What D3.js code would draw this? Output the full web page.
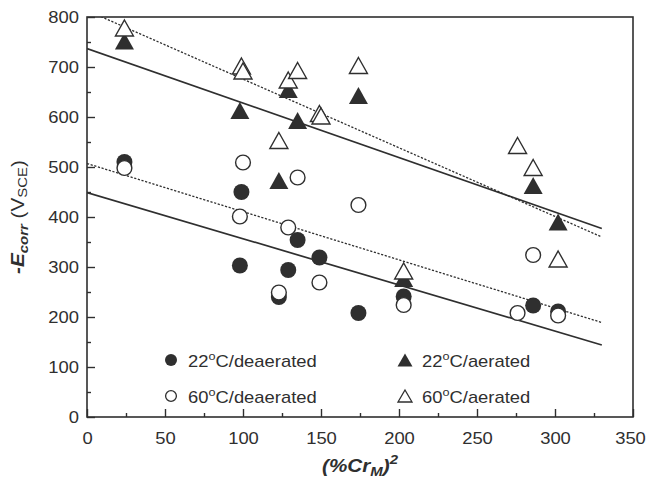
<!DOCTYPE html>
<html>
<head>
<meta charset="utf-8">
<script src="https://cdn.jsdelivr.net/npm/d3@7"></script>
<style>
  html, body { margin: 0; padding: 0; background: #fff; }
  svg { display: block; }
  text { font-family: "Liberation Sans", Arial, sans-serif; fill: #2f2f2f; }
</style>
</head>
<body>
<svg id="chart" width="647" height="487"></svg>
<script>
// ---- data ----
const xTicks = [0, 50, 100, 150, 200, 250, 300, 350];
const xMinorTicks = [25, 75, 125, 175, 225, 275, 325];
const yTicks = [0, 100, 200, 300, 400, 500, 600, 700, 800];
const yMinorTicks = [50, 150, 250, 350, 450, 550, 650, 750];

// 22°C / deaerated (filled circles)
const deae22X = [24, 99, 98, 123, 129, 135, 149, 174, 203, 286, 302];
const deae22Y = [510, 450, 303, 240, 294, 354, 319, 208, 241, 223, 211];
// 60°C / deaerated (open circles)
const deae60X = [24, 100, 98, 123, 129, 135, 149, 174, 203, 276, 286, 302];
const deae60Y = [498, 509, 401, 249, 379, 479, 269, 424, 224, 208, 324, 203];
// 22°C / aerated (filled triangles)
const aer22X = [24, 98, 123, 129, 135, 174, 203, 286, 302];
const aer22Y = [752, 613, 473, 655, 593, 643, 277, 463, 390];
// 60°C / aerated (open triangles)
const aer60X = [24, 99, 100, 123, 129, 135, 149, 150, 174, 203, 276, 286, 302];
const aer60Y = [778, 702, 692, 553, 674, 693, 607, 602, 703, 292, 543, 499, 316];

// linear fits (endpoints)
const fitX = [0, 330];
const fitDeae22 = [449, 144];
const fitDeae60 = [507, 189];
const fitAer22 = [737, 377];
const fitAer60 = [813, 360];

const legendLabels = ["22", "22", "60", "60"];
const legendSuffix = ["C/deaerated", "C/aerated", "C/deaerated", "C/aerated"];

// ---- layout ----
const svg = d3.select("#chart");
const L = 87, R = 633, T = 17, B = 417;
const x = d3.scaleLinear().domain([0, 350]).range([L, R]);
const y = d3.scaleLinear().domain([0, 800]).range([B, T]);
const ink = "#2f2f2f";
const SX = 1.15; // horizontal text stretch

svg.append("defs").append("clipPath").attr("id", "clip")
  .append("rect").attr("x", L).attr("y", T).attr("width", R - L).attr("height", B - T);

// fit lines
const fits = [
  {v: fitDeae22, dash: null},
  {v: fitDeae60, dash: "2.2,1.6"},
  {v: fitAer22, dash: null},
  {v: fitAer60, dash: "2.2,1.6"}
];
const lineGen = d3.line().x(d => x(d[0])).y(d => y(d[1]));
const gl = svg.append("g").attr("clip-path", "url(#clip)");
fits.forEach(f => {
  gl.append("path")
    .attr("d", lineGen(fitX.map((xv, i) => [xv, f.v[i]])))
    .attr("fill", "none")
    .attr("stroke", ink)
    .attr("stroke-width", f.dash ? 1.3 : 1.7)
    .attr("stroke-dasharray", f.dash);
});

// markers
const tri = (w, h) => `M0,${-h/2}L${w/2},${h/2}L${-w/2},${h/2}Z`;
function drawCircles(xs, ys, filled) {
  svg.append("g").selectAll("circle").data(xs.map((v, i) => [v, ys[i]])).join("circle")
    .attr("cx", d => x(d[0])).attr("cy", d => y(d[1])).attr("r", filled ? 8 : 7.4)
    .attr("fill", filled ? ink : "#fff")
    .attr("stroke", ink).attr("stroke-width", filled ? 0 : 1.4);
}
function drawTris(xs, ys, filled) {
  svg.append("g").selectAll("path").data(xs.map((v, i) => [v, ys[i]])).join("path")
    .attr("transform", d => `translate(${x(d[0])},${y(d[1])})`)
    .attr("d", filled ? tri(19, 17) : tri(18, 16))
    .attr("fill", filled ? ink : "#fff")
    .attr("stroke", ink).attr("stroke-width", filled ? 0 : 1.4)
    .attr("stroke-linejoin", "miter");
}
drawCircles(deae22X, deae22Y, true);
drawTris(aer22X, aer22Y, true);
drawCircles(deae60X, deae60Y, false);
drawTris(aer60X, aer60Y, false);

// axes
const gx = svg.append("g").attr("transform", `translate(0,${B})`)
  .call(d3.axisBottom(x).tickValues(xTicks).tickSize(-8).tickPadding(16).tickFormat(d3.format("d")));
svg.append("g").attr("transform", `translate(0,${B})`)
  .call(d3.axisBottom(x).tickValues(xMinorTicks).tickSize(-4).tickFormat(""));
const gy = svg.append("g").attr("transform", `translate(${L},0)`)
  .call(d3.axisLeft(y).tickValues(yTicks).tickSize(-8).tickPadding(7).tickFormat(d3.format("d")));
svg.append("g").attr("transform", `translate(${L},0)`)
  .call(d3.axisLeft(y).tickValues(yMinorTicks).tickSize(-4).tickFormat(""));
svg.selectAll(".domain").remove();
svg.selectAll(".tick line").attr("stroke", ink).attr("stroke-width", 1.4);
svg.selectAll(".tick text").attr("font-size", 16).attr("font-family", "Liberation Sans, Arial, sans-serif")
  .attr("fill", ink).attr("transform", `scale(${SX},1)`);
gy.selectAll(".tick text").attr("dy", "0.34em");
// keep the last x label inside the window
gx.selectAll(".tick text").filter(d => d === 350).attr("x", -3 / SX);

// frame
svg.append("rect").attr("x", L).attr("y", T).attr("width", R - L).attr("height", B - T)
  .attr("fill", "none").attr("stroke", ink).attr("stroke-width", 1.6);

// legend
const legPos = [[171, 360], [405, 360], [171, 396], [405, 396]];
const legKinds = ["fc", "ft", "oc", "ot"];
legPos.forEach((p, i) => {
  const k = legKinds[i];
  if (k[1] === "c") {
    svg.append("circle").attr("cx", p[0]).attr("cy", p[1]).attr("r", k[0] === "f" ? 6 : 5.4)
      .attr("fill", k[0] === "f" ? ink : "#fff").attr("stroke", ink).attr("stroke-width", k[0] === "f" ? 0 : 1.3);
  } else {
    svg.append("path").attr("transform", `translate(${p[0]},${p[1]})`)
      .attr("d", k[0] === "f" ? tri(15, 13) : tri(14, 12))
      .attr("fill", k[0] === "f" ? ink : "#fff").attr("stroke", ink).attr("stroke-width", k[0] === "f" ? 0 : 1.3);
  }
  const t = svg.append("text")
    .attr("transform", `translate(${p[0] + 17},${p[1] + 6.5}) scale(${SX},1)`)
    .attr("font-size", 16);
  t.append("tspan").text(legendLabels[i]);
  t.append("tspan").attr("font-size", 11).attr("dy", -7).text("o");
  t.append("tspan").attr("dy", 7).text(legendSuffix[i]);
});

// x label
const xl = svg.append("text")
  .attr("transform", `translate(${(L + R) / 2},472) scale(${SX},1)`)
  .attr("text-anchor", "middle").attr("font-size", 18).attr("font-weight", "bold").attr("font-style", "italic");
xl.append("tspan").text("(%Cr");
xl.append("tspan").attr("font-size", 13).attr("dy", 4).text("M");
xl.append("tspan").attr("dy", -4).text(")");
xl.append("tspan").attr("font-size", 13).attr("dy", -8).text("2");

// y label
const yl = svg.append("text")
  .attr("transform", `translate(24,${(T + B) / 2}) rotate(-90) scale(${SX},1)`)
  .attr("text-anchor", "middle").attr("font-size", 18);
yl.append("tspan").attr("font-weight", "bold").attr("font-style", "italic").text("-E");
yl.append("tspan").attr("font-weight", "bold").attr("font-style", "italic").attr("font-size", 13).attr("dy", 4).text("corr");
yl.append("tspan").attr("dy", -4).text(" (V");
yl.append("tspan").attr("font-size", 13).attr("dy", 3).text("SCE");
yl.append("tspan").attr("dy", -3).text(")");
</script>
</body>
</html>
